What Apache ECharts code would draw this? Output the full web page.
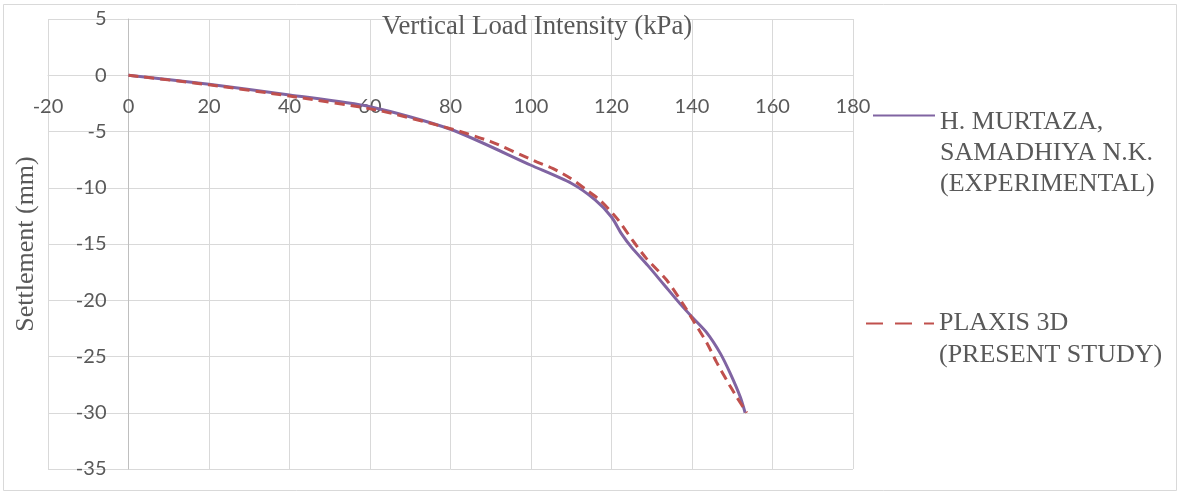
<!DOCTYPE html>
<html><head><meta charset="utf-8">
<script src="https://cdn.jsdelivr.net/npm/echarts@6/dist/echarts.min.js"></script>
<style>html,body{margin:0;padding:0;background:#fff}#c{width:1179px;height:493px}</style>
</head><body><div id="c"></div>
<script>
const expLoad = [0, 20, 40, 60, 80, 100, 110, 116, 120, 122.5, 125, 129, 133, 137, 140.3, 143.7, 147, 149.5, 152, 153.2];
const expSettlement = [0, -0.8, -1.75, -2.8, -4.8, -8.0, -9.6, -11.1, -12.6, -14.1, -15.3, -16.9, -18.6, -20.3, -21.6, -22.9, -24.7, -26.5, -28.6, -30.0];
const plaxisLoad = [0, 20, 40, 61.7, 80, 90, 101.4, 105.5, 110, 113.8, 117.1, 121.3, 125.5, 128.7, 133.7, 137.9, 140.3, 143.7, 146.1, 148.6, 151.1, 153.6];
const plaxisSettlement = [0, -0.85, -1.85, -3.1, -4.75, -5.9, -7.7, -8.3, -9.2, -10.2, -11.1, -12.7, -14.8, -16.3, -18.2, -20.4, -21.8, -23.8, -25.5, -27.1, -28.6, -30.0];
const seriesNames = ['H. MURTAZA, SAMADHIYA N.K. (EXPERIMENTAL)', 'PLAXIS 3D (PRESENT STUDY)'];
const legendLines = [['H. MURTAZA,', 'SAMADHIYA N.K.', '(EXPERIMENTAL)'], ['PLAXIS 3D', '(PRESENT STUDY)']];
const xTitle = 'Vertical Load Intensity (kPa)';
const yTitle = 'Settlement (mm)';
const xMin = -20, xMax = 180, xStep = 20;
const yMin = -35, yMax = 5, yStep = 5;

const zip = (a, b) => a.map((v, i) => [v, b[i]]);
const serif = 'Liberation Serif';
const sans = 'Lato';
const txt = '#595959';

const W = 1179, H = 493;
const gL = 48, gR = 326, gT = 19, gB = 24;
const gW = W - gL - gR, gH = H - gT - gB;
const xAxisOffset = -gH * (0 - yMin) / (yMax - yMin);
const yAxisOffset = -gW * (0 - xMin) / (xMax - xMin);

const legendText = lines => '{s| }\n' + lines.map(l => '{a|' + l + '}').join('\n');

const chart = echarts.init(document.getElementById('c'), null, {renderer: 'canvas'});
chart.setOption({
  animation: false,
  backgroundColor: '#fff',
  title: {
    text: xTitle, left: 382, top: 13, padding: 0,
    textStyle: {fontFamily: serif, fontSize: 26.8, fontWeight: 'normal', color: txt}
  },
  graphic: [{
    type: 'rect', shape: {x: 3.5, y: 4.5, width: 1173, height: 486},
    style: {fill: 'none', stroke: '#D9D9D9', lineWidth: 1}, silent: true
  }],
  grid: {left: gL, right: gR, top: gT, bottom: gB, containLabel: false, outerBoundsMode: 'none'},
  xAxis: {
    type: 'value', min: xMin, max: xMax, interval: xStep, position: 'bottom', offset: xAxisOffset,
    axisLine: {onZero: false, lineStyle: {color: '#D9D9D9', width: 1}},
    axisTick: {show: false},
    axisLabel: {margin: 21, fontFamily: sans, fontSize: 20, color: txt},
    splitLine: {show: true, lineStyle: {color: '#D9D9D9', width: 1}}
  },
  yAxis: {
    type: 'value', min: yMin, max: yMax, interval: yStep, position: 'left', offset: yAxisOffset,
    name: yTitle, nameLocation: 'middle', nameGap: 89,
    nameTextStyle: {fontFamily: serif, fontSize: 26, color: txt},
    axisLine: {onZero: false, lineStyle: {color: '#BFBFBF', width: 1}},
    axisTick: {show: false},
    axisLabel: {margin: 22, fontFamily: sans, fontSize: 20, color: txt},
    splitLine: {show: true, lineStyle: {color: '#D9D9D9', width: 1}}
  },
  legend: [{
    data: [seriesNames[0]], orient: 'vertical', left: 872, top: 68.5, padding: 0,
    itemWidth: 62, itemHeight: 14, itemStyle: {opacity: 0},
    formatter: () => legendText(legendLines[0]),
    textStyle: {
      rich: {
        s: {fontSize: 1, lineHeight: 76},
        a: {fontFamily: serif, fontSize: 26, lineHeight: 31, color: txt}
      }
    }
  }, {
    data: [seriesNames[1]], orient: 'vertical', left: 865, top: 291, padding: 0,
    itemWidth: 68, itemHeight: 14, itemStyle: {opacity: 0},
    formatter: () => legendText(legendLines[1]),
    lineStyle: {type: [17, 12]},
    textStyle: {
      rich: {
        s: {fontSize: 1, lineHeight: 32},
        a: {fontFamily: serif, fontSize: 26, lineHeight: 32, color: txt}
      }
    }
  }],
  series: [{
    name: seriesNames[0], type: 'line', data: zip(expLoad, expSettlement),
    symbol: 'none', smooth: 0.25,
    lineStyle: {color: '#8064A2', width: 3}, itemStyle: {color: '#8064A2'}
  }, {
    name: seriesNames[1], type: 'line', data: zip(plaxisLoad, plaxisSettlement),
    symbol: 'none', smooth: 0.25,
    lineStyle: {color: '#C0504D', width: 3, type: [10, 6]}, itemStyle: {color: '#C0504D'}
  }]
});
</script>
</body></html>
